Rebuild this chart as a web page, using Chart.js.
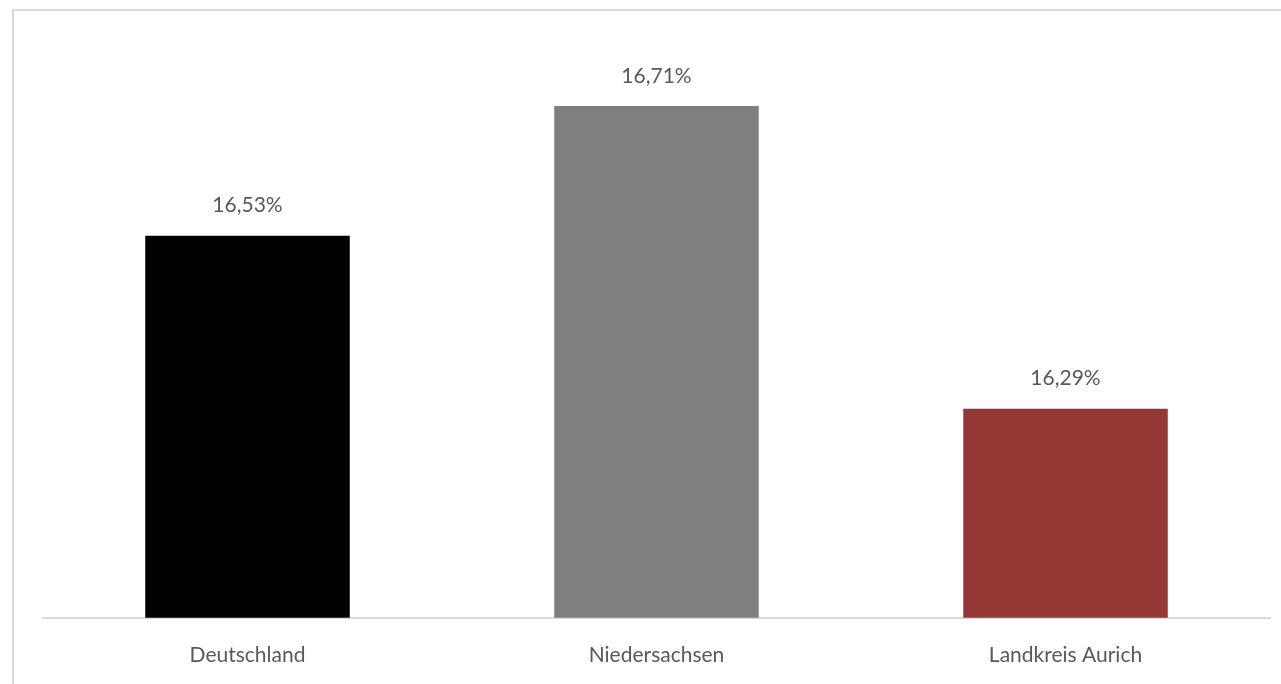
<!DOCTYPE html>
<html>
<head>
<meta charset="utf-8">
<script src="https://cdn.jsdelivr.net/npm/chart.js@4"></script>
<style>
    html, body { margin: 0; padding: 0; background: #fff; overflow: hidden; }
    .frame {
        position: absolute;
        left: 12px;
        top: 9px;
        width: 1300px;
        height: 700px;
        border: 2px solid #d9d9d9;
    }
    .chart-container {
        position: absolute;
        left: 0;
        top: 0;
        width: 1281px;
        height: 711px;
    }
</style>
</head>
<body>
<div class="frame"></div>
<div class="chart-container">
    <canvas id="quoteChart" width="1281" height="711"></canvas>
</div>
<script>
const categories = ['Deutschland', 'Niedersachsen', 'Landkreis Aurich'];
const quoteValues = [16.53, 16.71, 16.29];
const barColors = ['#000000', '#7f7f7f', '#953735'];

const textColor = '#595959';
const fontFamily = 'Lato, "Open Sans", sans-serif';

// value labels above the bars, German decimal comma
const valueLabels = {
    id: 'valueLabels',
    afterDatasetsDraw(chart) {
        const c = chart.ctx;
        const meta = chart.getDatasetMeta(0);
        c.save();
        c.fillStyle = textColor;
        c.font = '21px ' + fontFamily;
        c.textAlign = 'center';
        c.textBaseline = 'middle';
        meta.data.forEach((bar, i) => {
            const txt = quoteValues[i].toFixed(2).replace('.', ',') + '%';
            c.fillText(txt, bar.x, bar.y - 30);
        });
        c.restore();
    }
};

const ctx = document.getElementById('quoteChart').getContext('2d');
const chart = new Chart(ctx, {
    type: 'bar',
    data: {
        labels: categories,
        datasets: [{
            data: quoteValues,
            backgroundColor: barColors,
            borderWidth: 0,
            categoryPercentage: 0.5,
            barPercentage: 1.0
        }]
    },
    options: {
        responsive: false,
        animation: false,
        layout: {
            padding: { left: 43, right: 11, top: 41, bottom: 18 }
        },
        plugins: {
            legend: { display: false },
            tooltip: { enabled: false }
        },
        scales: {
            x: {
                grid: { display: false, drawTicks: false },
                border: { display: true, color: '#d9d9d9', width: 2 },
                ticks: {
                    color: textColor,
                    padding: 25,
                    font: { size: 21, family: fontFamily }
                }
            },
            y: {
                display: false,
                min: 16,
                max: 16.8
            }
        }
    },
    plugins: [valueLabels]
});
</script>
</body>
</html>
